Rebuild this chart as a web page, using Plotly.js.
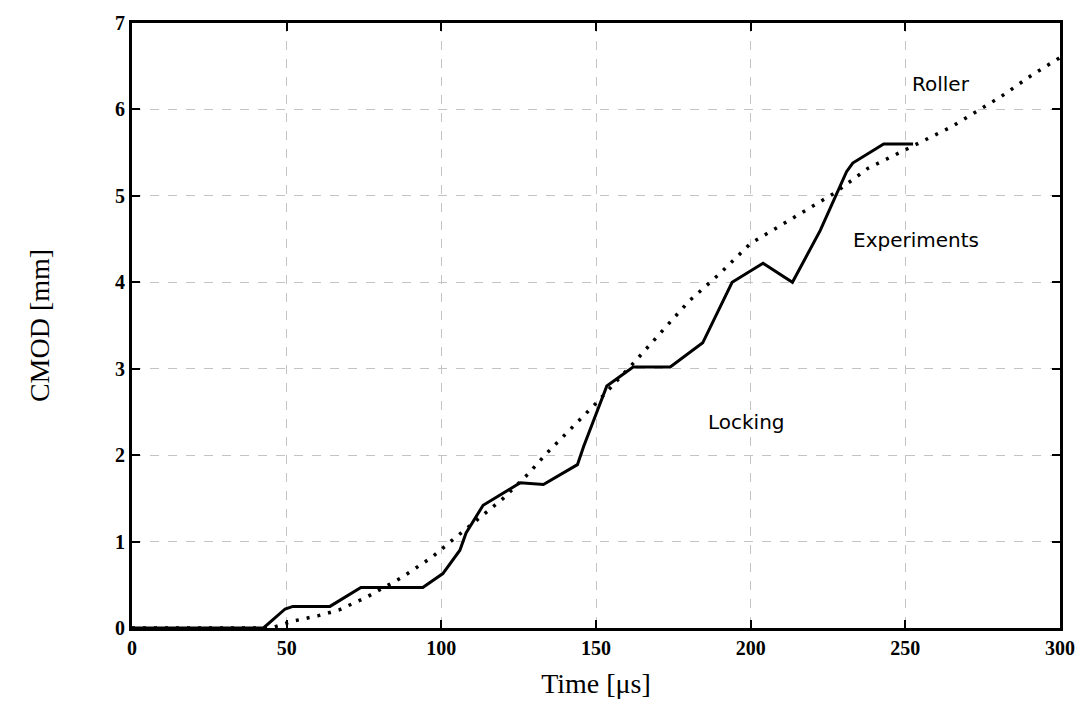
<!DOCTYPE html>
<html>
<head>
<meta charset="utf-8">
<script src="https://cdn.plot.ly/plotly-3.0.1.min.js"></script>
<style>html,body{margin:0;padding:0;background:#fff;}#chart{width:1080px;height:714px;}</style>
</head>
<body>
<div id="chart"></div>
<script>
const expTime = [0, 42.5, 49.5, 52, 64, 74, 94, 100.5, 106, 108, 113.5, 125.5, 133, 144, 146, 153.5, 162, 174, 184.5, 194, 204, 213.5, 222.5, 231, 233, 243, 252.5];
const expCMOD = [0, 0, 0.22, 0.25, 0.25, 0.47, 0.47, 0.63, 0.9, 1.1, 1.42, 1.68, 1.66, 1.89, 2.1, 2.8, 3.02, 3.02, 3.3, 4.0, 4.22, 4.0, 4.6, 5.28, 5.38, 5.6, 5.6];
const rollerTime = [0, 45, 52, 60, 67, 76, 87, 97, 103, 108, 120, 128, 134, 150, 163, 180, 190, 200, 216, 227, 238, 250, 265, 281, 291, 300];
const rollerCMOD = [0, 0, 0.08, 0.14, 0.21, 0.36, 0.58, 0.82, 1.0, 1.15, 1.5, 1.78, 2.02, 2.6, 3.1, 3.78, 4.1, 4.45, 4.8, 5.03, 5.32, 5.53, 5.8, 6.15, 6.4, 6.6];
const labels = [
  {text: 'Roller', x: 261.5, y: 6.3},
  {text: 'Experiments', x: 253.5, y: 4.49},
  {text: 'Locking', x: 198.8, y: 2.38}
];
const xTicks = [0, 50, 100, 150, 200, 250, 300];
const yTicks = [0, 1, 2, 3, 4, 5, 6, 7];

const data = [
  {x: rollerTime, y: rollerCMOD, mode: 'lines', line: {color: '#000', width: 3.5, dash: '3px,8px'}, name: 'Roller', hoverinfo: 'skip'},
  {x: expTime, y: expCMOD, mode: 'lines', line: {color: '#000', width: 3}, name: 'Experiments', hoverinfo: 'skip'}
];
const tickFont = {family: 'Liberation Serif, DejaVu Serif, serif', size: 20, color: '#000', weight: 'bold'};
const layout = {
  width: 1080, height: 714,
  margin: {l: 132, r: 20, t: 23, b: 86},
  paper_bgcolor: '#fff', plot_bgcolor: '#fff',
  showlegend: false,
  xaxis: {
    range: [0, 300], tickvals: xTicks, ticktext: xTicks.map(String),
    showline: true, linecolor: '#000', linewidth: 3, mirror: 'ticks',
    ticks: 'inside', ticklen: 8, tickwidth: 2, tickcolor: '#000',
    showgrid: true, gridcolor: '#c4c4c4', gridwidth: 1, griddash: 'dash',
    zeroline: false, tickfont: tickFont,
    title: {text: 'Time [μs]', font: {family: 'Liberation Serif, DejaVu Serif, serif', size: 28, color: '#000'}, standoff: 16}
  },
  yaxis: {
    range: [0, 7], tickvals: yTicks, ticktext: yTicks.map(String),
    showline: true, linecolor: '#000', linewidth: 3, mirror: 'ticks',
    ticks: 'inside', ticklen: 8, tickwidth: 2, tickcolor: '#000',
    showgrid: true, gridcolor: '#c4c4c4', gridwidth: 1, griddash: 'dash',
    zeroline: false, tickfont: tickFont,
    title: {text: 'CMOD [mm]', font: {family: 'Liberation Serif, DejaVu Serif, serif', size: 28, color: '#000'}, standoff: 58}
  },
  annotations: labels.map(l => ({
    x: l.x, y: l.y, xref: 'x', yref: 'y', text: l.text, showarrow: false,
    font: {family: 'DejaVu Sans, Verdana, sans-serif', size: 20, color: '#000'}
  }))
};
Plotly.newPlot('chart', data, layout, {displayModeBar: false, staticPlot: true});
</script>
</body>
</html>
